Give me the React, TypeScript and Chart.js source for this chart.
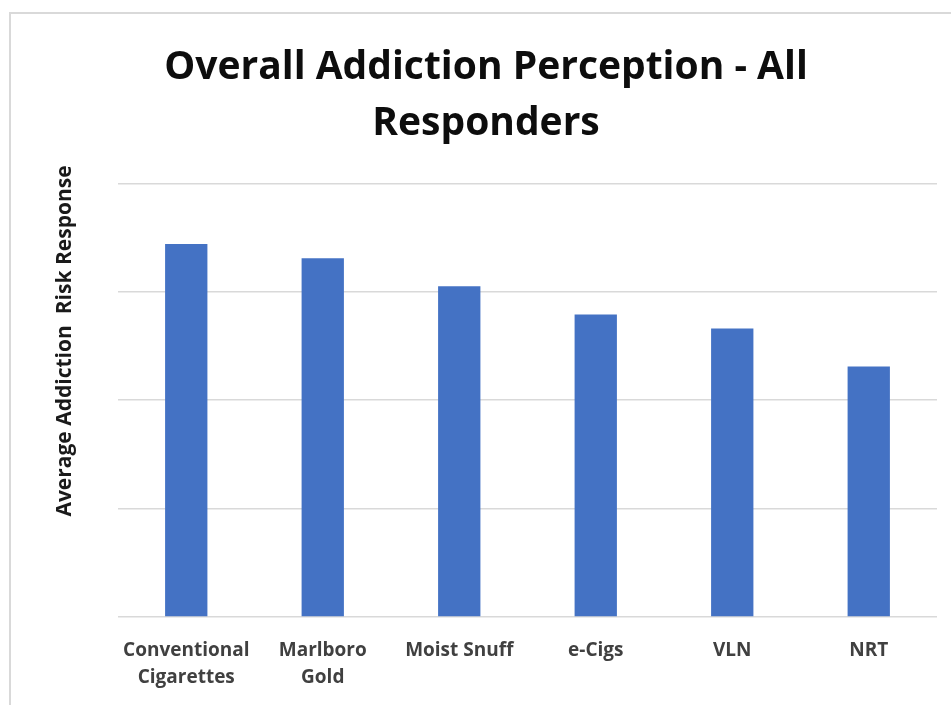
import React, { useEffect, useRef } from "react";
import { Chart, registerables } from "chart.js";

Chart.register(...registerables);

const categories: (string | string[])[] = [
  ["Conventional", "Cigarettes"],
  ["Marlboro", "Gold"],
  "Moist Snuff",
  "e-Cigs",
  "VLN",
  "NRT",
];
const riskResponse: number[] = [3.44, 3.31, 3.05, 2.79, 2.66, 2.31];
const titleLines: string[] = ["Overall Addiction Perception - All", "Responders"];
const yAxisTitle = "Average Addiction  Risk Response";

const FONT = "'Open Sans', 'Noto Sans', sans-serif";

// Rotated y-axis caption, placed to the left of the plot area
const yCaptionPlugin = {
  id: "yCaption",
  afterDraw(chart: Chart) {
    const { ctx, chartArea } = chart;
    ctx.save();
    ctx.translate(chartArea.left - 53, chartArea.bottom - 276);
    ctx.rotate(-Math.PI / 2);
    ctx.font = `bold 21px ${FONT}`;
    ctx.fillStyle = "#1a1a1a";
    ctx.textAlign = "center";
    ctx.textBaseline = "middle";
    ctx.fillText(yAxisTitle, 0, 0);
    ctx.restore();
  },
};

export default function App() {
  const canvasRef = useRef<HTMLCanvasElement | null>(null);

  useEffect(() => {
    if (!canvasRef.current) return;
    const chart = new Chart(canvasRef.current, {
      type: "bar",
      data: {
        labels: categories,
        datasets: [
          {
            label: "Average Addiction Risk Response",
            data: riskResponse,
            backgroundColor: "#4472c4",
            borderWidth: 0,
            barPercentage: 0.31,
            categoryPercentage: 1,
          },
        ],
      },
      options: {
        animation: false,
        responsive: true,
        maintainAspectRatio: false,
        layout: { padding: { left: 35, right: 14, top: 0, bottom: 0 } },
        plugins: {
          legend: { display: false },
          tooltip: { enabled: false },
          title: {
            display: true,
            text: titleLines,
            color: "#0d0d0d",
            font: { family: FONT, size: 39, weight: "bold", lineHeight: 1.44 },
            padding: { top: 40, bottom: 31 },
          },
        },
        scales: {
          x: {
            grid: { display: false, drawTicks: false },
            border: { display: false },
            ticks: {
              color: "#404040",
              padding: 20,
              maxRotation: 0,
              autoSkip: false,
              font: { family: FONT, size: 19, weight: "bold", lineHeight: 1.42 },
            },
            afterFit: (scale: any) => {
              scale.height = 88;
            },
          },
          y: {
            min: 0,
            max: 4,
            ticks: { display: false, stepSize: 1 },
            grid: { color: "#d9d9d9", lineWidth: 1.5, drawTicks: false },
            border: { display: false },
            afterFit: (scale: any) => {
              scale.width = 83;
            },
          },
        },
      },
      plugins: [yCaptionPlugin],
    });
    return () => chart.destroy();
  }, []);

  return (
    <div style={{ position: "fixed", left: 0, top: 0, width: 951, height: 705, background: "#fff", overflow: "hidden" }}>
      <div
        style={{
          position: "absolute",
          left: 9,
          top: 12,
          width: 1200,
          height: 1200,
          borderLeft: "2px solid #d9d9d9",
          borderTop: "2px solid #d9d9d9",
          pointerEvents: "none",
        }}
      />
      <canvas ref={canvasRef} style={{ position: "absolute", left: 0, top: 0, width: 951, height: 705 }} />
    </div>
  );
}
